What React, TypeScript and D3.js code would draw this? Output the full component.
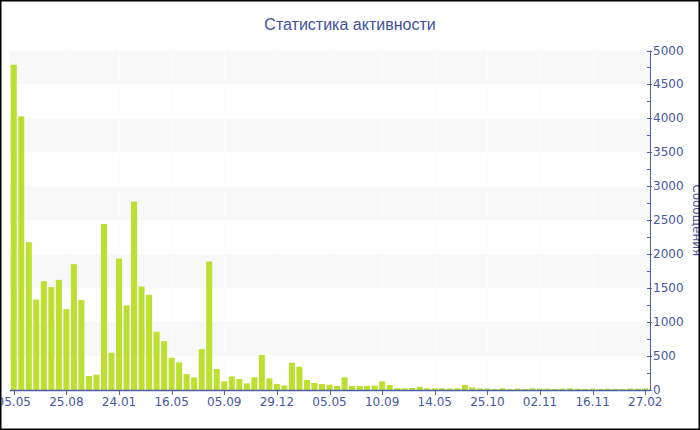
import React, { useRef, useEffect } from "react";
import * as d3 from "d3";

// сообщений за период, по порядку
const counts = [
  4790, 4029, 2176, 1333, 1603, 1515, 1622, 1191, 1853, 1324,
  206, 226, 2446, 549, 1936, 1245, 2775, 1524, 1402, 858,
  721, 475, 407, 235, 186, 603, 1892, 309, 127, 201,
  162, 98, 186, 515, 172, 88, 69, 402, 343, 147,
  103, 88, 78, 59, 186, 59, 59, 62, 65, 127,
  74, 25, 25, 30, 49, 25, 25, 25, 22, 25,
  74, 39, 22, 22, 15, 25, 15, 22, 15, 25,
  18, 20, 15, 18, 25, 18, 15, 18, 15, 18,
  15, 15, 22, 18, 22,
];
const tickLabels = [
  "05.05", "25.08", "24.01", "16.05", "05.09", "29.12", "05.05",
  "10.09", "14.05", "25.10", "02.11", "16.11", "27.02",
];
const tickEvery = 7;
const yTicks = [0, 500, 1000, 1500, 2000, 2500, 3000, 3500, 4000, 4500, 5000];

const App = () => {
  const svgRef = useRef(null);

  useEffect(() => {
    document.body.style.margin = "0";
    const width = 700;
    const height = 430;
    const axisColor = "#4b5ea8";
    const textColor = "#4657a3";
    const font = "'DejaVu Sans', sans-serif";

    const svg = d3
      .select(svgRef.current)
      .attr("width", width)
      .attr("height", height)
      .style("display", "block")
      .html("");

    svg.append("rect").attr("width", width).attr("height", height).attr("fill", "#fff");

    const x = d3
      .scaleBand()
      .domain(d3.range(counts.length))
      .range([10, 649])
      .paddingInner(0.2)
      .paddingOuter(0.1);

    const y = d3.scaleLinear().domain([0, 5000]).range([390, 50.5]);

    // полосы фона
    for (let v = 500; v < 5000; v += 1000) {
      svg
        .append("rect")
        .attr("x", 10)
        .attr("y", y(v + 500))
        .attr("width", 640)
        .attr("height", y(v) - y(v + 500))
        .attr("fill", "#f8f8f8");
    }

    const tickIdx = tickLabels.map((_, i) => i * tickEvery);
    const cx = (i) => x(i) + x.bandwidth() / 2;

    // едва заметные вертикальные линии сетки
    svg
      .selectAll(".vgrid")
      .data(tickIdx)
      .enter()
      .append("line")
      .attr("x1", (d) => Math.round(cx(d)) + 0.5)
      .attr("x2", (d) => Math.round(cx(d)) + 0.5)
      .attr("y1", y(5000))
      .attr("y2", y(0))
      .attr("stroke", "#fcfcfc")
      .attr("stroke-width", 1);

    // столбцы
    svg
      .selectAll(".bar")
      .data(counts)
      .enter()
      .append("rect")
      .attr("x", (d, i) => x(i))
      .attr("y", (d) => y(d))
      .attr("width", x.bandwidth())
      .attr("height", (d) => y(0) - y(d))
      .attr("fill", "#bbe02f");

    // ось X
    svg
      .append("line")
      .attr("x1", 10)
      .attr("x2", 650)
      .attr("y1", 390.5)
      .attr("y2", 390.5)
      .attr("stroke", axisColor)
      .attr("stroke-width", 1.5);

    svg
      .selectAll(".xtick")
      .data(tickIdx)
      .enter()
      .append("line")
      .attr("x1", (d) => Math.round(cx(d)) + 0.5)
      .attr("x2", (d) => Math.round(cx(d)) + 0.5)
      .attr("y1", 391)
      .attr("y2", 395)
      .attr("stroke", "#666");

    svg
      .selectAll(".xlabel")
      .data(tickLabels)
      .enter()
      .append("text")
      .attr("x", (d, i) => cx(tickIdx[i]))
      .attr("y", 406)
      .attr("text-anchor", "middle")
      .attr("font-family", font)
      .attr("font-size", 12)
      .attr("fill", textColor)
      .text((d) => d);

    // ось Y справа
    svg
      .append("line")
      .attr("x1", 650.5)
      .attr("x2", 650.5)
      .attr("y1", y(5000))
      .attr("y2", y(0) + 1)
      .attr("stroke", axisColor)
      .attr("stroke-width", 1);

    svg
      .selectAll(".ytick")
      .data(d3.range(0, 5001, 250))
      .enter()
      .append("line")
      .attr("x1", 647)
      .attr("x2", (d) => (d % 500 === 0 ? 652 : 650))
      .attr("y1", (d) => Math.round(y(d)) + 0.5)
      .attr("y2", (d) => Math.round(y(d)) + 0.5)
      .attr("stroke", axisColor);

    svg
      .selectAll(".ylabel")
      .data(yTicks)
      .enter()
      .append("text")
      .attr("x", 653)
      .attr("y", (d) => y(d) + 4)
      .attr("font-family", font)
      .attr("font-size", 12)
      .attr("fill", textColor)
      .text((d) => d);

    svg
      .append("text")
      .attr("transform", `translate(693, ${(y(0) + y(5000)) / 2}) rotate(90)`)
      .attr("text-anchor", "middle")
      .attr("font-family", font)
      .attr("font-size", 12)
      .attr("fill", textColor)
      .text("Сообщения");

    // заголовок
    svg
      .append("text")
      .attr("x", 350)
      .attr("y", 30)
      .attr("text-anchor", "middle")
      .attr("font-family", "'Liberation Sans', Arial, sans-serif")
      .attr("font-size", 16)
      .attr("fill", "#3f51a0")
      .text("Статистика активности");

    // рамка
    svg
      .append("rect")
      .attr("x", 0.5)
      .attr("y", 0.5)
      .attr("width", width - 1)
      .attr("height", height - 1)
      .attr("fill", "none")
      .attr("stroke", "#000")
      .attr("stroke-width", 2);
  }, []);

  return <svg ref={svgRef} />;
};

export default App;
